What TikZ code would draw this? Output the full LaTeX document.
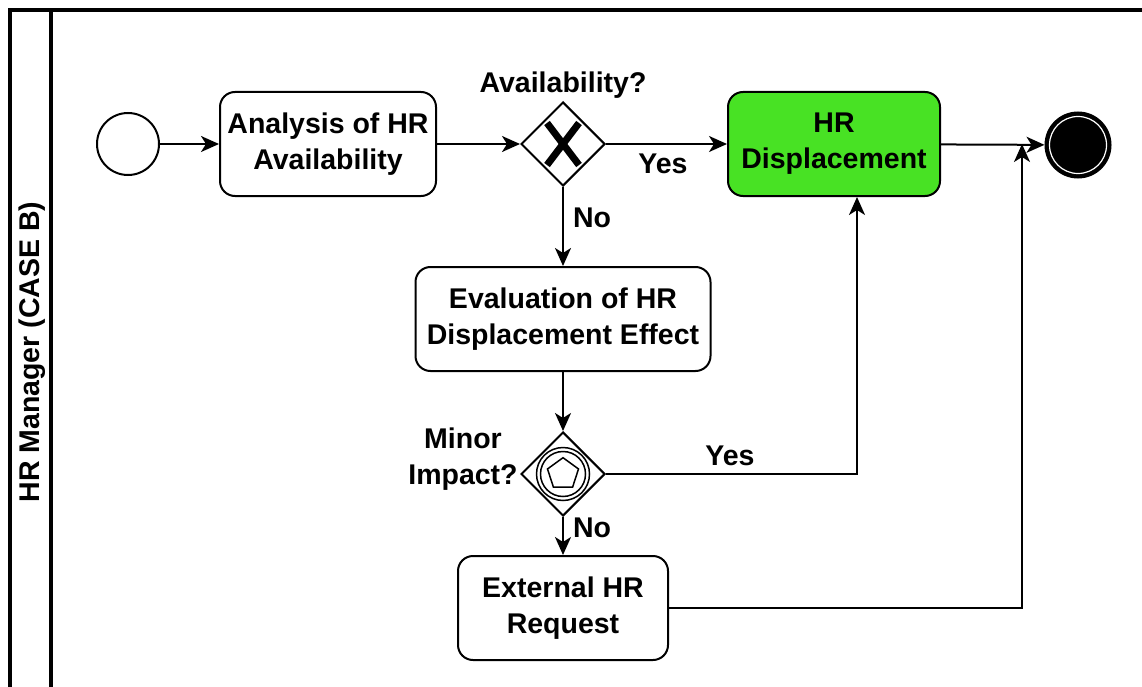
\documentclass[tikz,border=0pt]{standalone}
\usepackage{fontspec}
\setmainfont{Liberation Sans}
\usepackage{tikz}
\usetikzlibrary{arrows.meta,shapes.geometric,calc}

\definecolor{taskgreen}{RGB}{72,226,36}

\begin{document}
\begin{tikzpicture}[x=1pt,y=-1pt,line width=2pt,
  font=\fontsize{28.5}{36}\selectfont\bfseries,
  task/.style={draw,rounded corners=15pt,align=center,minimum height=104pt,inner sep=0pt},
  gate/.style={draw,diamond,minimum width=84pt,minimum height=84pt,inner sep=0pt},
  flow/.style={-{Stealth[length=18pt,width=16pt,inset=5pt]}},
  pool/.style={line width=4pt},
  lbl/.style={anchor=base,inner sep=0pt}]
\useasboundingbox (0,0) rectangle (1142,687);
\clip (0,0) rectangle (1142,687);
\fill [white] (0,0) rectangle (1142,687);
% pool and lane
\draw [pool] (1160,10) -- (10,10) -- (10,700);
\draw [pool] (51,10) -- (51,700);
\node (lane) [rotate=90] at (32,352) {HR Manager (CASE B)};
% events, tasks, gateways
\node (start) [circle,draw,minimum size=62pt,inner sep=0pt] at (128,144) {};
\node (t1) [task,minimum width=216pt] at (328,144) {Analysis of HR\\Availability};
\node (g1) [gate] at (563,144) {};
\node (disp) [task,fill=taskgreen,minimum width=212pt] at (834,144) {HR\\Displacement};
\node (end) [circle,draw,line width=4pt,fill=black,minimum size=63pt,inner sep=0pt] at (1078,145) {};
\draw [white,line width=1.2pt] (end.center) circle (28.5pt);
\node (eval) [task,minimum width=295pt] at (563,319) {Evaluation of HR\\Displacement Effect};
\node (g2) [gate] at (563,474) {};
\node (ext) [task,minimum width=210pt] at (563,608) {External HR\\Request};
% gateway markers
\draw [line width=7pt,shift={(g1.center)}] (-16,-21) -- (16,21) (-16,21) -- (16,-21);
\draw [line width=1.5pt,shift={(g2.center)}] (0,0) circle (26.5pt) (0,0) circle (22.5pt);
\node (pent) [regular polygon,regular polygon sides=5,draw,line width=1.5pt,
  minimum size=32.6pt,inner sep=0pt] at (g2.center) {};
% gateway labels
\node (qavail) [lbl] at (563,93) {Availability?};
\node (qminor) [align=center,inner sep=0pt] at (463,459) {Minor\\Impact?};
\node (yes1) [lbl] at (663,174) {Yes};
\node (no1) [lbl] at (592,227) {No};
\node (yes2) [lbl] at (730,465) {Yes};
\node (no2) [lbl] at (592,537) {No};
% sequence flows
\coordinate (merge) at (1022,144);
\draw [flow] (start) -- (t1);
\draw [flow] (t1) -- (g1);
\draw [flow] (g1) -- (disp);
\draw [flow] (disp) -- (end);
\draw [flow] (g1) -- (eval);
\draw [flow] (eval) -- (g2);
\draw [flow] (g2) -- (ext);
\draw [flow] (g2.east) -| ($ (disp.south)+(23,0) $);
\draw [flow] (ext.east) -| (merge);
\end{tikzpicture}
\end{document}
